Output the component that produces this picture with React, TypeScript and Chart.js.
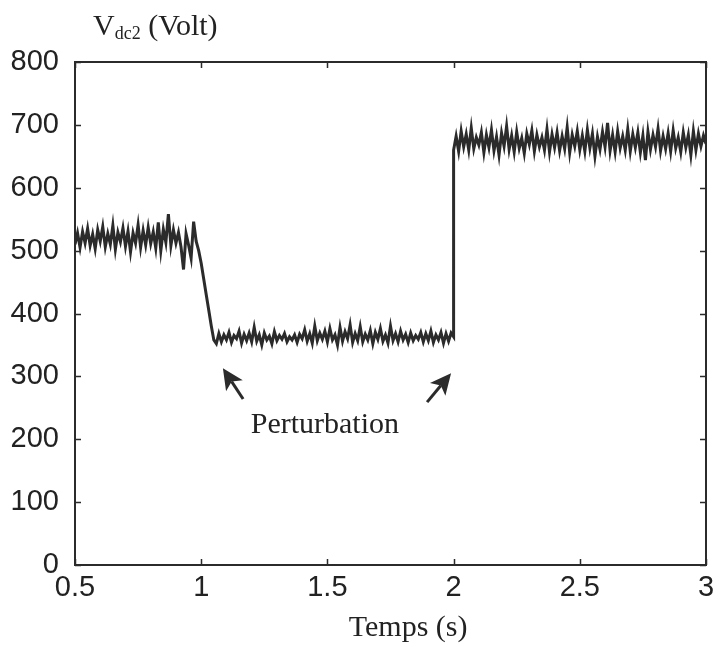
import React, { useEffect, useRef } from "react";
import { Chart, registerables } from "chart.js";

Chart.register(...registerables);

// ---- data ----
const STEP = 0.01; // sampling step of the recorded signal (s)

const seg1Start = 0.5; // steady state before the first perturbation
const seg1Values = [
  510, 528, 505, 530, 512, 535, 508, 526, 503, 533,
  515, 538, 506, 527, 510, 540, 502, 529, 514, 536,
  507, 531, 498, 528, 512, 541, 505, 532, 509, 537,
  511, 530, 504, 545, 500, 534, 513, 558, 508, 533,
  512, 529, 506, 470, 527, 509, 488, 546, 515,
];

const rampStart = 0.99; // fall after the first perturbation
const rampValues = [500, 480, 455, 430, 405, 380, 358];

const seg2Start = 1.06; // low plateau
const seg2Values = [
  352, 368, 355, 366,
  358, 370, 354, 365, 360, 372, 353, 367, 357, 369,
  355, 378, 356, 366, 350, 369, 358, 364, 352, 371,
  357, 365, 359, 368, 355, 363, 358, 366, 354, 367,
  360, 374, 356, 368, 353, 380, 357, 369, 359, 372,
  355, 376, 358, 366, 350, 378, 356, 371, 360, 382,
  354, 368, 357, 379, 355, 367, 358, 373, 352, 370,
  359, 376, 356, 366, 353, 380, 357, 368, 355, 372,
  358, 367, 354, 369, 357, 365, 359, 370, 355, 368,
  357, 372, 354, 366, 358, 370, 353, 368, 356, 369,
  363,
];

const seg3Start = 2.0; // high plateau after the second perturbation
const seg3Values = [
  660, 682, 658, 690, 665, 685, 660, 695, 662, 680,
  668, 688, 656, 684, 664, 692, 659, 681, 652, 687,
  666, 698, 661, 683, 657, 689, 663, 679, 655, 686,
  669, 691, 658, 684, 665, 680, 660, 693, 657, 685,
  664, 688, 659, 682, 662, 696, 656, 684, 666, 690,
  660, 683, 658, 692, 663, 686, 650, 681, 661, 689,
  665, 703, 659, 684, 657, 690, 663, 682, 660, 693,
  658, 685, 664, 688, 656, 683, 644, 689, 661, 684,
  665, 694, 659, 682, 662, 687, 658, 691, 663, 680,
  657, 688, 664, 684, 652, 690, 660, 686, 666, 683,
  670,
];

const xTicks = [0.5, 1, 1.5, 2, 2.5, 3];
const yTicks = [0, 100, 200, 300, 400, 500, 600, 700, 800];

const arrowTips = [
  { x: 1.086, y: 313 },
  { x: 1.99, y: 305 },
];
const arrowTails = [
  { x: 1.166, y: 264 },
  { x: 1.895, y: 259 },
];
const annotationText = "Perturbation";
const annotationPos = { x: 1.49, y: 223 };

const yTitleMain = "V";
const yTitleSub = "dc2";
const yTitleRest = " (Volt)";
const xTitle = "Temps (s)";
const xTitlePosX = 1.82;

// ---- helpers ----
function segment(start: number, values: number[]) {
  return values.map((v, i) => ({ x: +(start + i * STEP).toFixed(4), y: v }));
}

const points = [
  ...segment(seg1Start, seg1Values),
  ...segment(rampStart, rampValues),
  ...segment(seg2Start, seg2Values),
  ...segment(seg3Start, seg3Values),
];

const SERIF = '"Liberation Serif", "Times New Roman", serif';
const SANS = '"Liberation Sans", Arial, sans-serif';
const INK = "#2b2b2b";

const decorPlugin = {
  id: "decor",
  afterDraw(chart: any) {
    const { ctx, chartArea, scales } = chart;
    const xs = scales.x;
    const ys = scales.y;
    const { left, right, top, bottom } = chartArea;
    ctx.save();

    // frame
    ctx.strokeStyle = INK;
    ctx.lineWidth = 2;
    ctx.strokeRect(left, top, right - left, bottom - top);

    // inward ticks on all four sides
    const tl = 6;
    ctx.lineWidth = 1.5;
    ctx.beginPath();
    xTicks.forEach((t) => {
      const px = Math.round(xs.getPixelForValue(t)) + 0.5;
      ctx.moveTo(px, bottom);
      ctx.lineTo(px, bottom - tl);
      ctx.moveTo(px, top);
      ctx.lineTo(px, top + tl);
    });
    yTicks.forEach((v) => {
      const py = Math.round(ys.getPixelForValue(v)) + 0.5;
      ctx.moveTo(left, py);
      ctx.lineTo(left + tl, py);
      ctx.moveTo(right, py);
      ctx.lineTo(right - tl, py);
    });
    ctx.stroke();

    // arrows
    ctx.fillStyle = INK;
    ctx.strokeStyle = INK;
    arrowTips.forEach((tip, i) => {
      const tail = arrowTails[i];
      const x1 = xs.getPixelForValue(tail.x);
      const y1 = ys.getPixelForValue(tail.y);
      const x2 = xs.getPixelForValue(tip.x);
      const y2 = ys.getPixelForValue(tip.y);
      const ang = Math.atan2(y2 - y1, x2 - x1);
      const headLen = 21;
      const headHalf = 10;
      const notch = 5;
      const bx = x2 - headLen * Math.cos(ang);
      const by = y2 - headLen * Math.sin(ang);
      ctx.lineWidth = 3;
      ctx.beginPath();
      ctx.moveTo(x1, y1);
      ctx.lineTo(bx + notch * Math.cos(ang), by + notch * Math.sin(ang));
      ctx.stroke();
      ctx.beginPath();
      ctx.moveTo(x2, y2);
      ctx.lineTo(bx + headHalf * Math.sin(ang), by - headHalf * Math.cos(ang));
      ctx.lineTo(bx + notch * Math.cos(ang), by + notch * Math.sin(ang));
      ctx.lineTo(bx - headHalf * Math.sin(ang), by + headHalf * Math.cos(ang));
      ctx.closePath();
      ctx.fill();
    });

    // annotation text
    ctx.fillStyle = "#222";
    ctx.font = `30px ${SERIF}`;
    ctx.textAlign = "center";
    ctx.textBaseline = "middle";
    ctx.fillText(
      annotationText,
      xs.getPixelForValue(annotationPos.x),
      ys.getPixelForValue(annotationPos.y)
    );

    // x title
    ctx.fillText(xTitle, xs.getPixelForValue(xTitlePosX), bottom + 63);

    // y title with subscript
    ctx.textAlign = "left";
    ctx.textBaseline = "alphabetic";
    let tx = 93;
    const base = 35;
    ctx.font = `30px ${SERIF}`;
    ctx.fillText(yTitleMain, tx, base);
    tx += ctx.measureText(yTitleMain).width;
    ctx.font = `18px ${SERIF}`;
    ctx.fillText(yTitleSub, tx, base + 4);
    tx += ctx.measureText(yTitleSub).width;
    ctx.font = `30px ${SERIF}`;
    ctx.fillText(yTitleRest, tx, base);

    ctx.restore();
  },
};

export default function App() {
  const canvasRef = useRef<HTMLCanvasElement | null>(null);

  useEffect(() => {
    const canvas = canvasRef.current;
    if (!canvas) return;
    const chart = new Chart(canvas, {
      type: "line",
      data: {
        datasets: [
          {
            data: points,
            borderColor: INK,
            borderWidth: 3,
            pointRadius: 0,
            tension: 0,
            fill: false,
          },
        ],
      },
      options: {
        animation: false,
        responsive: false,
        devicePixelRatio: 1,
        parsing: false as any,
        layout: { padding: { top: 62, right: 14, left: 0, bottom: 0 } },
        plugins: {
          legend: { display: false },
          tooltip: { enabled: false },
        },
        scales: {
          x: {
            type: "linear",
            min: 0.5,
            max: 3,
            afterBuildTicks: (scale: any) => {
              scale.ticks = xTicks.map((v) => ({ value: v }));
            },
            afterFit: (scale: any) => {
              scale.height = 82;
            },
            grid: { display: false },
            border: { display: false },
            ticks: {
              padding: -2,
              color: "#222",
              font: { family: SANS, size: 29 },
              maxRotation: 0,
              autoSkip: false,
              callback: (v: any) => String(v),
            },
          },
          y: {
            type: "linear",
            min: 0,
            max: 800,
            afterBuildTicks: (scale: any) => {
              scale.ticks = yTicks.map((v) => ({ value: v }));
            },
            afterFit: (scale: any) => {
              scale.width = 75;
            },
            grid: { display: false },
            border: { display: false },
            ticks: {
              padding: 8,
              color: "#222",
              font: { family: SANS, size: 29 },
              autoSkip: false,
              callback: (v: any) => String(v),
            },
          },
        },
      },
      plugins: [decorPlugin],
    });
    return () => chart.destroy();
  }, []);

  return (
    <div style={{ position: "fixed", left: 0, top: 0, width: 720, height: 647, background: "#fff" }}>
      <canvas ref={canvasRef} width={720} height={647} style={{ display: "block" }} />
    </div>
  );
}
